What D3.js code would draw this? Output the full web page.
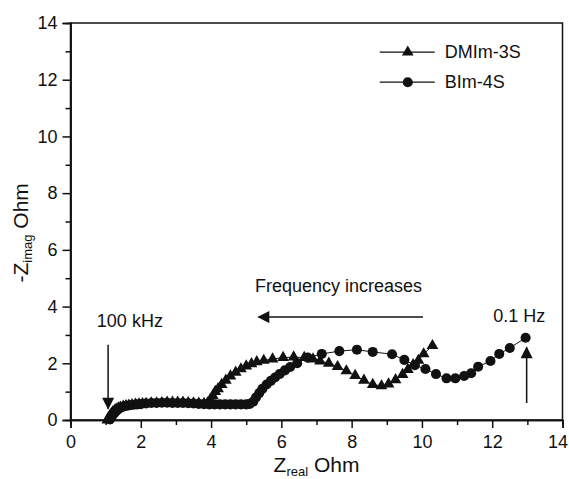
<!DOCTYPE html>
<html>
<head>
<meta charset="utf-8">
<script src="https://cdn.jsdelivr.net/npm/d3@7"></script>
<style>
  body { margin: 0; background: #fff; }
  text { font-family: "Liberation Sans", Arial, sans-serif; fill: #111; }
</style>
</head>
<body>
<div id="chart"></div>
<script>
// series data (Zreal, -Zimag in Ohm)
const dmimX = [1.05,1.08,1.12,1.16,1.2,1.25,1.3,1.36,1.42,1.5,1.58,1.66,1.75,1.85,1.95,2.05,2.15,2.3,2.45,2.6,2.75,2.9,3.05,3.2,3.35,3.5,3.65,3.8,3.9,3.97,4.05,4.12,4.2,4.3,4.42,4.55,4.7,4.85,5.0,5.15,5.3,5.5,5.75,6.05,6.35,6.65,6.9,7.1,7.35,7.6,7.85,8.1,8.35,8.6,8.85,9.05,9.25,9.45,9.6,9.75,9.9,10.05,10.3];
const dmimY = [0.0,0.08,0.15,0.22,0.28,0.33,0.38,0.42,0.45,0.48,0.5,0.52,0.54,0.55,0.56,0.57,0.58,0.6,0.6,0.61,0.62,0.62,0.62,0.62,0.61,0.6,0.59,0.58,0.6,0.7,0.85,1.0,1.1,1.25,1.4,1.55,1.68,1.8,1.9,1.98,2.05,2.1,2.15,2.2,2.22,2.2,2.15,2.08,2.0,1.88,1.73,1.57,1.4,1.25,1.2,1.27,1.42,1.6,1.78,1.95,2.1,2.33,2.62];

const bimX = [1.12,1.16,1.2,1.25,1.3,1.36,1.42,1.5,1.6,1.7,1.8,1.9,2.0,2.15,2.3,2.45,2.6,2.75,2.9,3.05,3.2,3.35,3.5,3.65,3.8,3.95,4.1,4.25,4.4,4.55,4.7,4.85,5.0,5.1,5.2,5.28,5.37,5.46,5.58,5.7,5.82,5.95,6.1,6.25,6.45,6.75,7.15,7.65,8.15,8.6,9.15,9.5,9.8,10.1,10.4,10.7,10.95,11.2,11.4,11.6,11.95,12.2,12.5,12.95];
const bimY = [0.02,0.1,0.18,0.25,0.32,0.38,0.43,0.47,0.5,0.52,0.54,0.55,0.56,0.58,0.6,0.6,0.61,0.61,0.6,0.6,0.6,0.59,0.58,0.57,0.56,0.55,0.55,0.55,0.55,0.55,0.55,0.55,0.55,0.57,0.65,0.8,0.95,1.1,1.25,1.38,1.5,1.62,1.75,1.87,2.0,2.2,2.33,2.43,2.48,2.4,2.32,2.12,1.93,1.8,1.62,1.47,1.47,1.55,1.65,1.88,2.08,2.33,2.54,2.9];

const seriesNames = ['DMIm-3S', 'BIm-4S'];
const xTicks = [0, 2, 4, 6, 8, 10, 12, 14];
const yTicks = [0, 2, 4, 6, 8, 10, 12, 14];

const margin = { top: 23, right: 6.5, bottom: 59, left: 70.5 },
  width = 569 - margin.left - margin.right,
  height = 479 - margin.top - margin.bottom;

const svg = d3.select('#chart')
  .append('svg')
  .attr('width', 569)
  .attr('height', 479);

const g = svg.append('g')
  .attr('transform', `translate(${margin.left} ${margin.top})`);

const x = d3.scaleLinear().domain([0, 14]).range([0, width]);
const y = d3.scaleLinear().domain([0, 14]).range([height, 0]);

// frame
g.append('rect')
  .attr('width', width)
  .attr('height', height)
  .attr('fill', 'none')
  .attr('stroke', '#111')
  .attr('stroke-width', 1.5);

// axes: major ticks with labels, minor ticks in between
const xAxis = g.append('g')
  .attr('transform', `translate(0 ${height})`)
  .call(d3.axisBottom(x).tickValues(xTicks).tickSize(8).tickPadding(7).tickFormat(d3.format('d')));
g.append('g')
  .attr('transform', `translate(0 ${height})`)
  .call(d3.axisBottom(x).tickValues(d3.range(1, 14, 2)).tickSize(5).tickFormat(''));

g.append('g')
  .call(d3.axisLeft(y).tickValues(yTicks).tickSize(8).tickPadding(5).tickFormat(d3.format('d')));
g.append('g')
  .call(d3.axisLeft(y).tickValues(d3.range(1, 14, 2)).tickSize(5).tickFormat(''));

g.selectAll('.domain').attr('stroke', '#111').attr('stroke-width', 1.5);
g.selectAll('.tick line').attr('stroke', '#111').attr('stroke-width', 1.5);
g.selectAll('.tick text')
  .attr('font-size', 18)
  .attr('font-family', '"Liberation Sans", Arial, sans-serif')
  .attr('fill', '#111');

// last x label sits a bit inside the edge, as in the original
xAxis.selectAll('.tick text')
  .filter(d => d === 14)
  .attr('dx', -5);

// axis titles
const xTitle = svg.append('text')
  .attr('x', margin.left + x(7))
  .attr('y', 472)
  .attr('text-anchor', 'middle')
  .attr('font-size', 21);
xTitle.append('tspan').text('Z');
xTitle.append('tspan').attr('font-size', 13).attr('dy', 4).text('real');
xTitle.append('tspan').attr('dy', -4).text(' Ohm');

const yTitle = svg.append('text')
  .attr('transform', `translate(28 ${margin.top + y(6.6)}) rotate(-90)`)
  .attr('text-anchor', 'middle')
  .attr('font-size', 21);
yTitle.append('tspan').text('-Z');
yTitle.append('tspan').attr('font-size', 13).attr('dy', 4).text('imag');
yTitle.append('tspan').attr('dy', -4).text(' Ohm');

// series
const series = [
  { name: seriesNames[0], xs: dmimX, ys: dmimY, symbol: d3.symbolTriangle, size: 60 },
  { name: seriesNames[1], xs: bimX, ys: bimY, symbol: d3.symbolCircle, size: 80 }
];

const line = d3.line()
  .x(d => x(d[0]))
  .y(d => y(d[1]));

series.forEach(s => {
  const pts = s.xs.map((v, i) => [v, s.ys[i]]);
  g.append('path')
    .datum(pts)
    .attr('d', line)
    .attr('fill', 'none')
    .attr('stroke', '#111')
    .attr('stroke-width', 1);
  g.append('g')
    .selectAll('path')
    .data(pts)
    .enter()
    .append('path')
    .attr('d', d3.symbol().type(s.symbol).size(s.size))
    .attr('transform', d => `translate(${x(d[0])} ${y(d[1])})`)
    .attr('fill', '#111');
});

// legend
const legend = g.append('g');
series.forEach((s, i) => {
  const ly = y(12.97) + i * 30;
  const row = legend.append('g').attr('transform', `translate(${x(8.8)} ${ly})`);
  row.append('line')
    .attr('x1', 0).attr('x2', 55)
    .attr('stroke', '#111').attr('stroke-width', 1.2);
  row.append('path')
    .attr('d', d3.symbol().type(s.symbol).size(s.size))
    .attr('transform', 'translate(28 0)')
    .attr('fill', '#111');
  row.append('text')
    .attr('x', 65)
    .attr('y', 6)
    .attr('font-size', 18)
    .text(s.name);
});

// annotations
svg.append('defs').append('marker')
  .attr('id', 'head')
  .attr('viewBox', '0 0 10 10')
  .attr('refX', 9).attr('refY', 5)
  .attr('markerWidth', 14).attr('markerHeight', 12)
  .attr('markerUnits', 'userSpaceOnUse')
  .attr('orient', 'auto')
  .append('path')
  .attr('d', 'M0,0 L10,5 L0,10 Z')
  .attr('fill', '#111');

const arrow = (x1, y1, x2, y2) => g.append('line')
  .attr('x1', x(x1)).attr('y1', y(y1))
  .attr('x2', x(x2)).attr('y2', y(y2))
  .attr('stroke', '#111')
  .attr('stroke-width', 1.5)
  .attr('marker-end', 'url(#head)');

arrow(1.07, 2.65, 1.07, 0.4);
arrow(12.98, 0.6, 12.98, 2.56);
arrow(10.03, 3.63, 5.35, 3.63);

g.append('text')
  .attr('x', x(5.25)).attr('y', y(4.5))
  .attr('font-size', 18)
  .text('Frequency increases');
g.append('text')
  .attr('x', x(0.75)).attr('y', y(3.27))
  .attr('font-size', 18)
  .text('100 kHz');
g.append('text')
  .attr('x', x(12.03)).attr('y', y(3.45))
  .attr('font-size', 18)
  .text('0.1 Hz');
</script>
</body>
</html>
